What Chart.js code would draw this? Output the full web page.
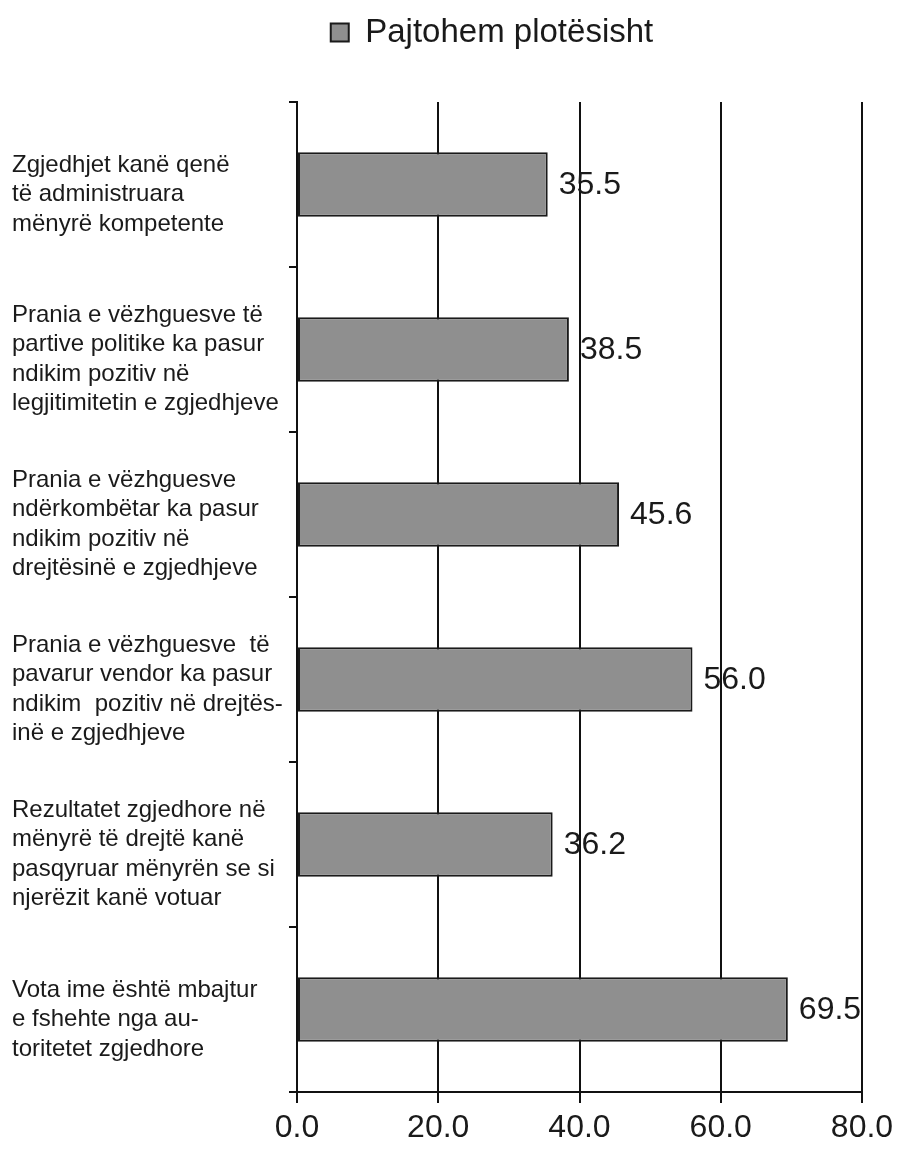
<!DOCTYPE html>
<html>
<head>
<meta charset="utf-8">
<script src="https://cdn.jsdelivr.net/npm/chart.js@4.4.1/dist/chart.umd.min.js"></script>
<style>
  body { margin: 0; background: #fff; }
  #wrap { width: 905px; height: 1151px; position: relative; }
</style>
</head>
<body>
<div id="wrap"><canvas id="grafico"></canvas></div>
<script>
const categorias = [
  ['Zgjedhjet kanë qenë', 'të administruara', 'mënyrë kompetente'],
  ['Prania e vëzhguesve të', 'partive politike ka pasur', 'ndikim pozitiv në', 'legjitimitetin e zgjedhjeve'],
  ['Prania e vëzhguesve', 'ndërkombëtar ka pasur', 'ndikim pozitiv në', 'drejtësinë e zgjedhjeve'],
  ['Prania e vëzhguesve  të', 'pavarur vendor ka pasur', 'ndikim  pozitiv në drejtës-', 'inë e zgjedhjeve'],
  ['Rezultatet zgjedhore në', 'mënyrë të drejtë kanë', 'pasqyruar mënyrën se si', 'njerëzit kanë votuar'],
  ['Vota ime është mbajtur', 'e fshehte nga au-', 'toritetet zgjedhore']
];
const pajtohem = [35.5, 38.5, 45.6, 56.0, 36.2, 69.5];
const serieNome = 'Pajtohem plotësisht';
const xTicks = [0, 20, 40, 60, 80];

const fonte = '"Liberation Sans", Arial, sans-serif';
const corTexto = '#1a1a1a';

// legenda: altura fixa e deslocada para a direita como no original
const posLegenda = {
  id: 'posLegenda',
  beforeInit(chart) {
    const fit = chart.legend.fit;
    chart.legend.fit = function () {
      fit.call(this);
      this.height = 102;
    };
  },
  afterLayout(chart) {
    chart.legend.left += 55;
    chart.legend.right += 55;
  }
};

// valores ao lado das barras
const rotulosValores = {
  id: 'rotulosValores',
  afterDatasetsDraw(chart) {
    const ctx = chart.ctx;
    const meta = chart.getDatasetMeta(0);
    ctx.save();
    ctx.font = '32px ' + fonte;
    ctx.fillStyle = corTexto;
    ctx.textAlign = 'left';
    ctx.textBaseline = 'middle';
    meta.data.forEach((bar, i) => {
      ctx.fillText(pajtohem[i].toFixed(1), bar.x + 11, bar.y + 1);
    });
    ctx.restore();
  }
};

new Chart(document.getElementById('grafico'), {
  type: 'bar',
  data: {
    labels: categorias,
    datasets: [{
      label: serieNome,
      data: pajtohem,
      backgroundColor: '#8f8f8f',
      borderColor: '#1a1a1a',
      borderWidth: 2,
      borderSkipped: false,
      barPercentage: 0.39,
      categoryPercentage: 1
    }]
  },
  options: {
    indexAxis: 'y',
    responsive: true,
    maintainAspectRatio: false,
    animation: false,
    layout: { padding: { left: 12, right: 43, top: 0, bottom: 0 } },
    scales: {
      x: {
        min: 0,
        max: 80,
        afterBuildTicks(scale) {
          scale.ticks = xTicks.map(v => ({ value: v }));
        },
        afterFit(scale) { scale.height = 59; },
        grid: { color: '#111', lineWidth: 2, tickLength: 11 },
        border: { display: true, color: '#111', width: 2 },
        ticks: {
          padding: 6,
          color: corTexto,
          font: { family: fonte, size: 32 },
          callback: v => Number(v).toFixed(1)
        }
      },
      y: {
        afterFit(scale) { scale.width = 285; },
        grid: { drawOnChartArea: false, color: '#111', lineWidth: 2, tickLength: 8 },
        border: { display: true, color: '#111', width: 2 },
        ticks: {
          autoSkip: false,
          crossAlign: 'far',
          labelOffset: 10,
          color: corTexto,
          font: { family: fonte, size: 24, lineHeight: 1.23 }
        }
      }
    },
    plugins: {
      legend: {
        display: true,
        position: 'top',
        labels: {
          boxWidth: 18,
          boxHeight: 18,
          padding: 16,
          color: corTexto,
          font: { family: fonte, size: 33 }
        }
      },
      tooltip: { enabled: false }
    }
  },
  plugins: [posLegenda, rotulosValores]
});
</script>
</body>
</html>
